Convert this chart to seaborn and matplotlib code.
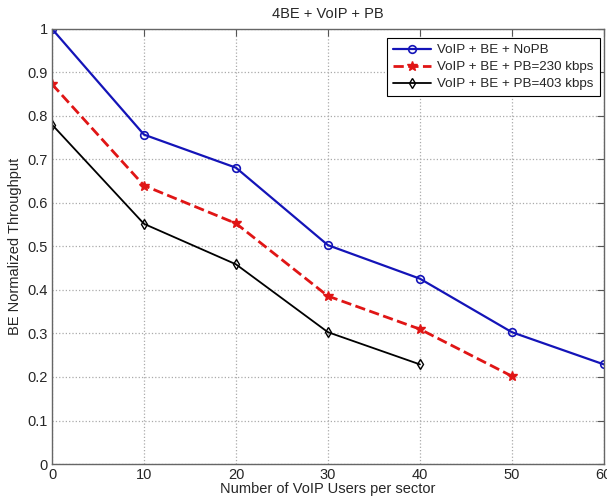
import pandas as pd
import matplotlib.pyplot as plt
import seaborn as sns

users = [0, 10, 20, 30, 40, 50, 60]
nopb = [1.0, 0.757, 0.681, 0.503, 0.426, 0.303, 0.229]
pb230 = [0.873, 0.640, 0.553, 0.386, 0.310, 0.202]
pb403 = [0.780, 0.552, 0.459, 0.303, 0.229]

labels = ["VoIP + BE + NoPB", "VoIP + BE + PB=230 kbps", "VoIP + BE + PB=403 kbps"]

sns.set_style("white")
plt.rcParams["font.family"] = ["Liberation Sans", "DejaVu Sans"]

df = pd.concat([
    pd.DataFrame({"users": users[:len(nopb)], "thr": nopb, "case": labels[0]}),
    pd.DataFrame({"users": users[:len(pb230)], "thr": pb230, "case": labels[1]}),
    pd.DataFrame({"users": users[:len(pb403)], "thr": pb403, "case": labels[2]}),
])

fig = plt.figure(figsize=(6.07, 4.99), dpi=100)
ax = fig.add_axes([0.0857, 0.0701, 0.909, 0.872])

styles = {
    labels[0]: dict(color="#1414b8", marker="o", ls="-", lw=1.6, mfc="none", ms=5.5, mew=1.2),
    labels[1]: dict(color="#e01515", marker="*", ls="--", lw=2.0, mfc="#e01515", ms=7, mew=1.0),
    labels[2]: dict(color="black", marker="d", ls="-", lw=1.3, mfc="none", ms=5, mew=1.0),
}
for name in labels:
    s = styles[name]
    sub = df[df["case"] == name]
    sns.lineplot(data=sub, x="users", y="thr", ax=ax, color=s["color"], marker=s["marker"],
                 linestyle=s["ls"], linewidth=s["lw"], markerfacecolor=s["mfc"],
                 markeredgecolor=s["color"], markersize=s["ms"], markeredgewidth=s["mew"],
                 label=name)

ax.set_xlim(0, 60)
ax.set_ylim(0, 1)
ax.set_xticks(users)
ax.set_yticks([i / 10 for i in range(11)])
ax.set_yticklabels(["0", "0.1", "0.2", "0.3", "0.4", "0.5", "0.6", "0.7", "0.8", "0.9", "1"])
ax.grid(True, linestyle=":", color="#aaaaaa", linewidth=0.9)
ax.tick_params(direction="in", top=True, right=True, length=5, labelsize=10.5,
               color="#555555", pad=3)
for sp in ax.spines.values():
    sp.set_color("#666666")
    sp.set_linewidth(1.0)

ax.set_title("4BE + VoIP + PB", fontsize=10.5, pad=8)
ax.set_xlabel("Number of VoIP Users per sector", fontsize=10.5, labelpad=0)
ax.set_ylabel("BE Normalized Throughput", fontsize=10.5, labelpad=4)

leg = ax.legend(loc="upper right", bbox_to_anchor=(0.9928, 0.979), fontsize=9.6,
                frameon=True, fancybox=False, edgecolor="black", framealpha=1,
                borderaxespad=0, handlelength=2.8, handletextpad=0.5,
                labelspacing=0.35, borderpad=0.45)
leg.get_frame().set_linewidth(0.8)

fig.savefig("out.png", dpi=100)
